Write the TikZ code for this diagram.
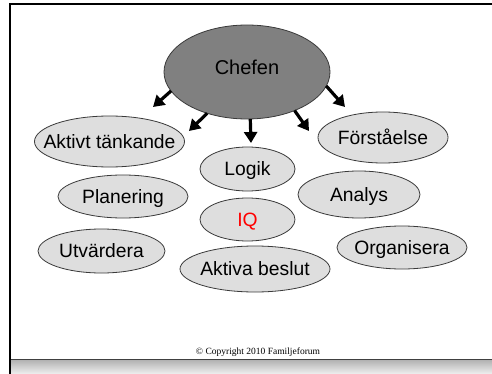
\documentclass[tikz,border=0pt]{standalone}
\usepackage{fontspec}
\setmainfont{Liberation Sans}
\newfontfamily\serifcopy{Liberation Serif}
\usetikzlibrary{shapes.geometric,arrows.meta}
\definecolor{bubblefill}{HTML}{DEDEDE}
\definecolor{chiefill}{HTML}{808080}
\definecolor{rimcol}{HTML}{3A3A3A}
\tikzset{
  bubble/.style={ellipse, draw=rimcol, line width=0.8pt, fill=bubblefill, inner ysep=0pt, inner xsep=-45pt, outer sep=0pt,
    font=\fontsize{19.3}{21}\selectfont, text height=13.8pt, text depth=0pt},
  chief/.style={ellipse, draw=rimcol, line width=0.8pt, fill=chiefill, inner sep=0pt, outer sep=0pt,
    font=\fontsize{20}{22}\selectfont, text height=14.3pt, text depth=9.3pt},
  bigarrow/.style={line width=3.2pt, -{Triangle[length=11pt,width=13pt]}},
}
\begin{document}
\begin{tikzpicture}[x=1pt,y=-1pt]
\useasboundingbox (0,0) rectangle (492,374);
\fill[white] (0,0) rectangle (492,374);
% bottom band
\shade[top color=gray!62, bottom color=gray!12] (11,359.5) rectangle (492,374);
\draw[line width=1pt, black!75] (11,359.3) -- (492,359.3);
% frame
\draw[line width=2.4pt] (10.2,374) -- (10.2,4.2) -- (493,4.2);
% nodes
\node[chief, minimum width=166pt, minimum height=94pt] (chef) at (247,72) {Chefen};
\node[bubble, minimum width=150pt, minimum height=51pt] (akt) at (109.5,141.5) {Aktivt tänkande};
\node[bubble, minimum width=130pt, minimum height=51pt] (for) at (383,137.5) {Förståelse};
\node[bubble, minimum width=95pt, minimum height=44pt] (log) at (247.5,169) {Logik};
\node[bubble, minimum width=130pt, minimum height=43pt] (pla) at (123,196.5) {Planering};
\node[bubble, minimum width=122pt, minimum height=47pt] (ana) at (359,194.5) {Analys};
\node[bubble, minimum width=95pt, minimum height=43pt, text=red] (iq) at (247.5,219.5) {IQ};
\node[bubble, minimum width=127pt, minimum height=44pt] (utv) at (101.5,251) {Utvärdera};
\node[bubble, minimum width=130pt, minimum height=43pt] (org) at (402,247.5) {Organisera};
\node[bubble, minimum width=150pt, minimum height=46pt] (akb) at (255,269) {Aktiva beslut};
% arrow tips
\coordinate (t1) at (153,107);
\coordinate (t2) at (189,131);
\coordinate (t3) at (251,143);
\coordinate (t4) at (309,131);
\coordinate (t5) at (345,107);
\draw[bigarrow] (chef.194.9) -- (t1);
\draw[bigarrow] (chef.226.4) -- (t2);
\draw[bigarrow] (chef.274.8) -- (t3);
\draw[bigarrow] (chef.321.5) -- (t4);
\draw[bigarrow] (chef.350.8) -- (t5);
% copyright
\node[font=\serifcopy\fontsize{9.5}{11}\selectfont, inner sep=0pt] (copy) at (258,352) {© Copyright 2010 Familjeforum};
\end{tikzpicture}
\end{document}
